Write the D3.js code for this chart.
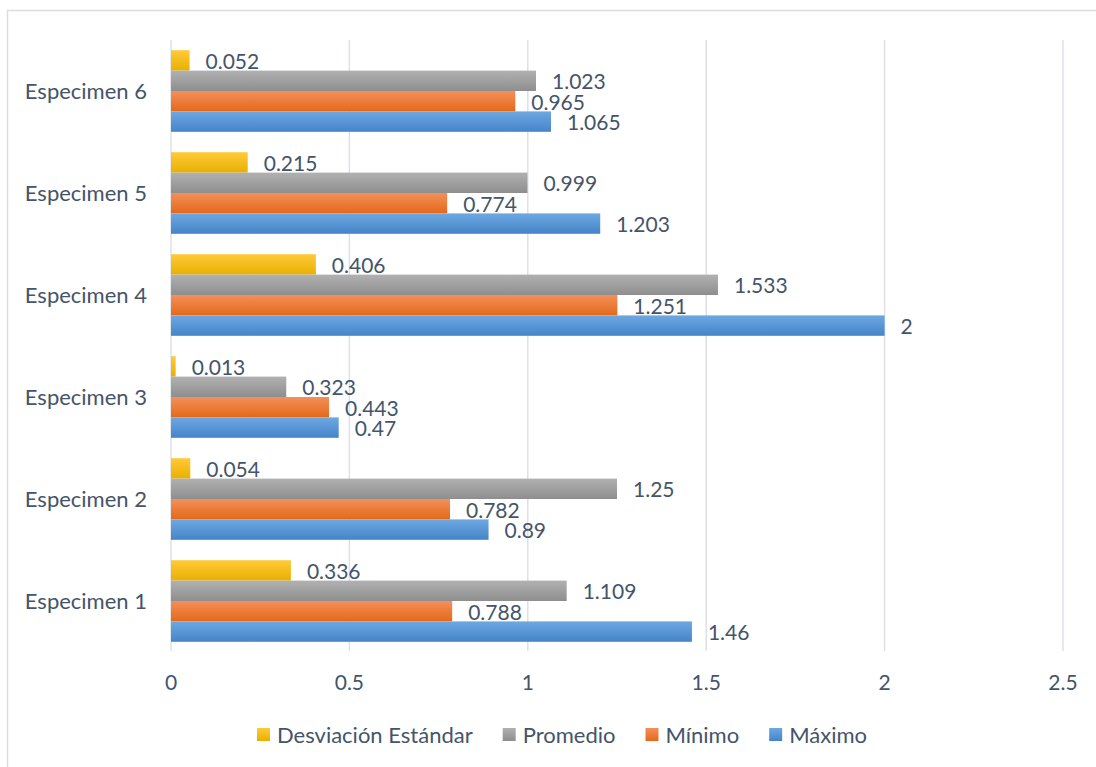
<!DOCTYPE html>
<html>
<head>
<meta charset="utf-8">
<script src="https://cdn.jsdelivr.net/npm/d3@7"></script>
<style>
  body { margin: 0; background: #fff; }
  svg { display: block; font-family: Lato, "Open Sans", sans-serif; }
</style>
</head>
<body>
<svg id="chart"></svg>
<script>
const categories = ['Especimen 1', 'Especimen 2', 'Especimen 3', 'Especimen 4', 'Especimen 5', 'Especimen 6'];
const desviacion = [0.336, 0.054, 0.013, 0.406, 0.215, 0.052];
const promedio = [1.109, 1.25, 0.323, 1.533, 0.999, 1.023];
const minimo = [0.788, 0.782, 0.443, 1.251, 0.774, 0.965];
const maximo = [1.46, 0.89, 0.47, 2, 1.203, 1.065];
const xTicks = [0, 0.5, 1, 1.5, 2, 2.5];
const seriesNames = ['Desviación Estándar', 'Promedio', 'Mínimo', 'Máximo'];

const W = 1096, H = 767;
const textColor = '#44546a';

// gradient stops per series (top, bottom)
const colors = [
  ['#ffca3a', '#e8b000'],
  ['#b1b1b1', '#8e8e8e'],
  ['#f4905a', '#e3691a'],
  ['#6ea8e0', '#4584ca']
];

const series = [desviacion, promedio, minimo, maximo];

const svg = d3.select('#chart')
    .attr('width', W)
    .attr('height', H);

const defs = svg.append('defs');
colors.forEach((c, i) => {
  const g = defs.append('linearGradient')
      .attr('id', 'grad' + i)
      .attr('x1', 0).attr('y1', 0).attr('x2', 0).attr('y2', 1);
  g.append('stop').attr('offset', '0%').attr('stop-color', c[0]);
  g.append('stop').attr('offset', '100%').attr('stop-color', c[1]);
});

// outer frame
svg.append('rect')
    .attr('x', 7.5).attr('y', 10.5)
    .attr('width', W + 10).attr('height', H + 10)
    .attr('fill', '#fff')
    .attr('stroke', '#d9dde3')
    .attr('stroke-width', 1.5);

const x = d3.scaleLinear()
    .domain([0, 2.5])
    .range([171, 1063]);

const y = d3.scaleBand()
    .domain(categories.slice().reverse())
    .range([40, 652])
    .paddingInner(0.2)
    .paddingOuter(0.1);

const y1 = d3.scaleBand()
    .domain(d3.range(seriesNames.length))
    .range([0, y.bandwidth()]);

// gridlines
svg.append('g')
  .selectAll('line')
    .data(xTicks)
  .enter().append('line')
    .attr('x1', d => x(d)).attr('x2', d => x(d))
    .attr('y1', 40).attr('y2', 651)
    .attr('stroke', '#dde1e7')
    .attr('stroke-width', 1.5);

// x tick labels
svg.append('g')
  .selectAll('text')
    .data(xTicks)
  .enter().append('text')
    .attr('x', d => x(d))
    .attr('y', 690)
    .attr('text-anchor', 'middle')
    .attr('fill', textColor)
    .style('font-size', '21px')
    .text(d => d);

// category labels
svg.append('g')
  .selectAll('text')
    .data(categories)
  .enter().append('text')
    .attr('x', 147)
    .attr('y', d => y(d) + y.bandwidth() / 2)
    .attr('dy', '0.35em')
    .attr('text-anchor', 'end')
    .attr('fill', textColor)
    .style('font-size', '22px')
    .text(d => d);

// bars
const groups = svg.append('g')
  .selectAll('g')
    .data(categories)
  .enter().append('g')
    .attr('transform', d => `translate(0,${y(d)})`);

groups.selectAll('rect')
    .data((d, ci) => series.map((s, si) => ({ si, v: s[ci] })))
  .enter().append('rect')
    .attr('x', x(0))
    .attr('y', d => y1(d.si))
    .attr('width', d => x(d.v) - x(0))
    .attr('height', y1.bandwidth())
    .attr('fill', d => `url(#grad${d.si})`);

groups.selectAll('text')
    .data((d, ci) => series.map((s, si) => ({ si, v: s[ci] })))
  .enter().append('text')
    .attr('x', d => x(d.v) + 16)
    .attr('y', d => y1(d.si) + y1.bandwidth() / 2)
    .attr('dy', '0.4em')
    .attr('fill', textColor)
    .style('font-size', '21px')
    .text(d => d.v);

// legend
const legend = svg.append('g');
const items = legend.selectAll('g')
    .data(seriesNames)
  .enter().append('g');

items.append('rect')
    .attr('width', 13).attr('height', 13)
    .attr('y', -7)
    .attr('fill', (d, i) => `url(#grad${i})`);

items.append('text')
    .attr('x', 20)
    .attr('dy', '0.35em')
    .attr('fill', textColor)
    .style('font-size', '22px')
    .text(d => d);

let offset = 0;
const widths = [];
items.each(function () {
  widths.push(20 + d3.select(this).select('text').node().getComputedTextLength());
});
const gap = 30;
const total = d3.sum(widths) + gap * (widths.length - 1);
let start = 562 - total / 2;
items.attr('transform', (d, i) => {
  const t = `translate(${start + offset},735)`;
  offset += widths[i] + gap;
  return t;
});
</script>
</body>
</html>
